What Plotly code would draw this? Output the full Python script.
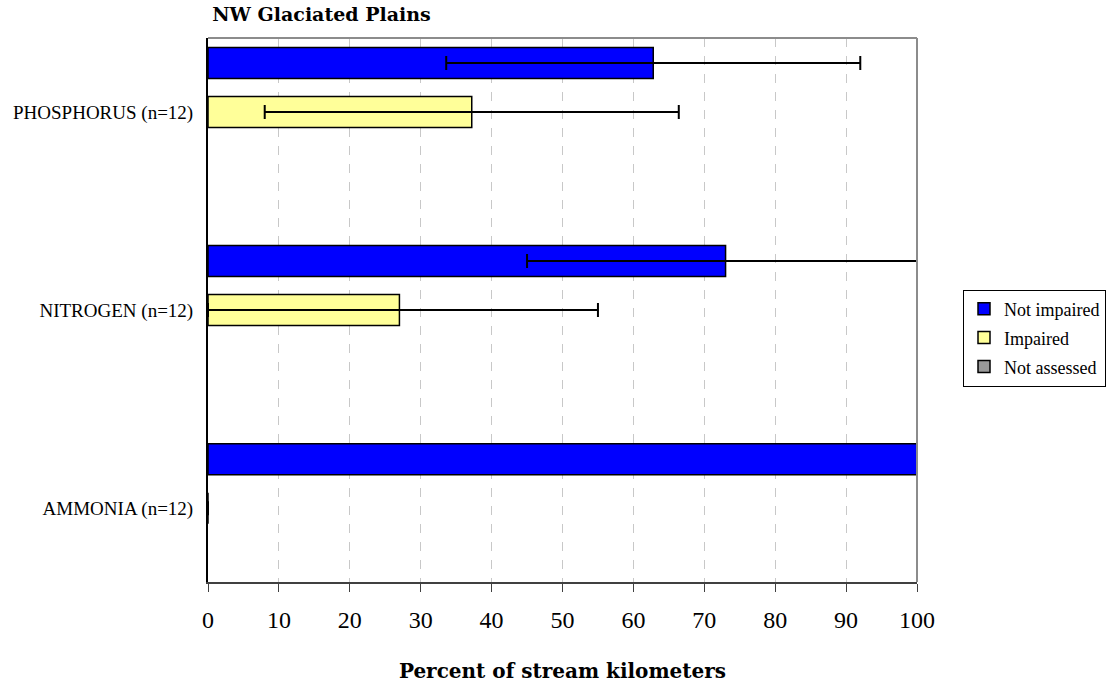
import numpy as np
import plotly.graph_objects as go

# Indicators, listed top to bottom as they appear on the chart
indicators = ["PHOSPHORUS (n=12)", "NITROGEN (n=12)", "AMMONIA (n=12)"]

# Percent of stream kilometers per condition class
not_impaired = [62.8, 73.0, 100.0]
impaired = [37.2, 27.0, 0.0]
not_assessed = [0.0, 0.0, 0.0]

# Confidence half-widths for each estimate
not_impaired_err = [29.2, 28.0, 0.0]
impaired_err = [29.2, 28.0, 0.0]

x_ticks = [0, 10, 20, 30, 40, 50, 60, 70, 80, 90, 100]

SERIF = "Liberation Serif, Times New Roman, serif"
BOLD_SERIF = "DejaVu Serif, Georgia, serif"


def clipped_errors(values, errs):
    # Error whiskers stop at the 0-100 % axis limits
    v = np.asarray(values, dtype=float)
    e = np.asarray(errs, dtype=float)
    plus = np.minimum(e, 100.0 - v)
    minus = np.minimum(e, v - 0.0)
    return plus.tolist(), minus.tolist()


# name, values, errors (None = no whiskers), fill colour, legend rank
series = [
    ("Not assessed", not_assessed, None, "#999999", 3),
    ("Impaired", impaired, impaired_err, "#FFFF99", 2),
    ("Not impaired", not_impaired, not_impaired_err, "#0000FF", 1),
]

fig = go.Figure()
for name, vals, errs, color, rank in series:
    if errs is None:
        err = dict(visible=False)
        # a class with no whiskers draws nothing where its share is zero
        xs = [v if v > 0 else None for v in vals]
    else:
        plus, minus = clipped_errors(vals, errs)
        err = dict(type="data", symmetric=False, array=plus, arrayminus=minus,
                   color="#000000", thickness=2, width=7)
        xs = vals
    fig.add_trace(
        go.Bar(
            name=name,
            y=indicators,
            x=xs,
            orientation="h",
            legendgroup=name,
            legendrank=rank,
            marker=dict(color=color, line=dict(color="#000000", width=1.5)),
            error_x=err,
            cliponaxis=False,
        )
    )

fig.update_layout(
    width=1106,
    height=683,
    margin=dict(l=208, r=189, t=38, b=101),
    paper_bgcolor="white",
    plot_bgcolor="white",
    barmode="group",
    bargap=0.258,
    bargroupgap=0.367,
    title=dict(
        text="<b>NW Glaciated Plains</b>",
        font=dict(family=BOLD_SERIF, size=19, color="#000000"),
        xref="paper",
        x=0.006,
        xanchor="left",
        yref="container",
        y=1 - 14 / 683,
        yanchor="middle",
    ),
    legend=dict(
        xref="container",
        yref="container",
        x=963 / 1106,
        xanchor="left",
        y=1 - 338 / 683,
        yanchor="middle",
        traceorder="grouped",
        tracegroupgap=2.5,
        bordercolor="#000000",
        borderwidth=1,
        bgcolor="white",
        font=dict(family=SERIF, size=18, color="#000000"),
    ),
    showlegend=True,
)

fig.update_xaxes(
    range=[0, 100],
    tickvals=x_ticks,
    ticktext=[str(t) for t in x_ticks],
    ticks="outside",
    ticklen=8,
    tickcolor="#404040",
    tickwidth=1,
    ticklabelstandoff=7,
    tickfont=dict(family=SERIF, size=24, color="#000000"),
    showgrid=True,
    gridcolor="#c8c8c8",
    griddash="dash",
    gridwidth=1,
    zeroline=False,
    showline=True,
    linecolor="#404040",
    linewidth=2,
    automargin=False,
    title=dict(
        text="<b>Percent of stream kilometers</b>",
        font=dict(family=BOLD_SERIF, size=20, color="#000000"),
        standoff=36,
    ),
)

fig.update_yaxes(
    type="category",
    categoryorder="array",
    categoryarray=indicators[::-1],
    range=[-0.373, 2.374],
    ticks="",
    ticklabelstandoff=9,
    tickfont=dict(family=SERIF, size=19, color="#000000"),
    showgrid=False,
    zeroline=False,
    showline=True,
    linecolor="#000000",
    linewidth=2,
    automargin=False,
)

# Grey frame along the top and right edges of the plot area
fig.add_shape(type="line", xref="paper", yref="paper", x0=0, x1=1, y0=1, y1=1,
              line=dict(color="#8c8c8c", width=2))
fig.add_shape(type="line", xref="paper", yref="paper", x0=1, x1=1, y0=0, y1=1,
              line=dict(color="#8c8c8c", width=2))

fig.write_html("out.html")
